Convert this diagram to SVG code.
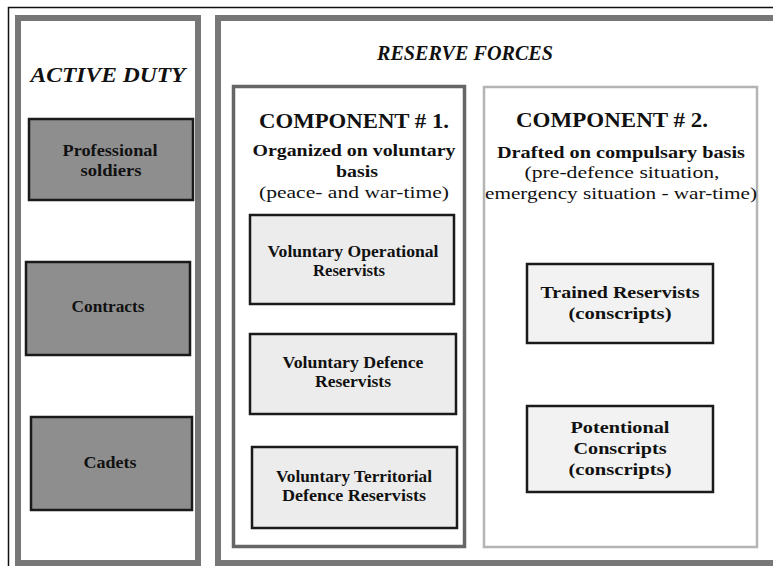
<svg xmlns="http://www.w3.org/2000/svg" width="773" height="566" viewBox="0 0 773 566">
<style>
text{font-family:"Liberation Serif","DejaVu Serif",serif;fill:#111;text-anchor:middle}
.t{font-weight:bold;font-style:italic;font-size:21px}
.h{font-weight:bold;font-size:22px}
.s{font-weight:bold;font-size:16px}
.r{font-size:17px}
.b{font-weight:bold;font-size:17.5px}
.panel{fill:#fff;stroke:#777;stroke-width:6}
.dark{fill:#8e8e8e;stroke:#1a1a1a;stroke-width:2.5}
.light{fill:#ececec;stroke:#1a1a1a;stroke-width:2.5}
.light2{fill:#f2f2f2;stroke:#1a1a1a;stroke-width:2.5}
</style>
<rect x="0" y="0" width="773" height="566" fill="#fff"/>
<rect x="8.5" y="7.5" width="780" height="580" fill="none" stroke="#111" stroke-width="1.5"/>

<g id="active-duty">
<rect class="panel" x="18" y="18" width="180" height="545"/>
<text class="t" x="108" y="82" textLength="155" lengthAdjust="spacingAndGlyphs">ACTIVE DUTY</text>
</g>
<g id="professional-soldiers">
<rect class="dark" x="29" y="119" width="164" height="81"/>
<text class="b" x="110" y="156" textLength="95" lengthAdjust="spacingAndGlyphs">Professional</text>
<text class="b" x="111" y="176" textLength="61" lengthAdjust="spacingAndGlyphs">soldiers</text>
</g>
<g id="contracts">
<rect class="dark" x="26" y="262" width="164" height="93"/>
<text class="b" x="108" y="312" textLength="73" lengthAdjust="spacingAndGlyphs">Contracts</text>
</g>
<g id="cadets">
<rect class="dark" x="31" y="417" width="161" height="93"/>
<text class="b" x="110" y="468" textLength="53" lengthAdjust="spacingAndGlyphs">Cadets</text>
</g>

<g id="reserve-forces">
<rect class="panel" x="218" y="18" width="580" height="545"/>
<text class="t" x="465" y="60" textLength="176" lengthAdjust="spacingAndGlyphs">RESERVE FORCES</text>
</g>

<g id="component-1">
<rect x="233.5" y="86.5" width="231" height="460" fill="#fff" stroke="#666" stroke-width="3.5"/>
<text class="h" x="354" y="128" textLength="190" lengthAdjust="spacingAndGlyphs">COMPONENT # 1.</text>
<text class="s" x="354" y="156" textLength="203" lengthAdjust="spacingAndGlyphs">Organized  on voluntary</text>
<text class="s" x="357" y="177" textLength="42" lengthAdjust="spacingAndGlyphs">basis</text>
<text class="r" x="354" y="198" textLength="190" lengthAdjust="spacingAndGlyphs">(peace- and war-time)</text>
</g>
<g id="voluntary-operational">
<rect class="light" x="250" y="215" width="204" height="89"/>
<text class="b" x="353" y="257" textLength="171" lengthAdjust="spacingAndGlyphs">Voluntary Operational</text>
<text class="b" x="349" y="276" textLength="72" lengthAdjust="spacingAndGlyphs">Reservists</text>
</g>
<g id="voluntary-defence">
<rect class="light" x="250" y="334" width="206" height="80"/>
<text class="b" x="353" y="368" textLength="141" lengthAdjust="spacingAndGlyphs">Voluntary Defence</text>
<text class="b" x="353" y="387" textLength="76" lengthAdjust="spacingAndGlyphs">Reservists</text>
</g>
<g id="voluntary-territorial">
<rect class="light" x="252" y="447" width="205" height="81"/>
<text class="b" x="354" y="482" textLength="156" lengthAdjust="spacingAndGlyphs">Voluntary Territorial</text>
<text class="b" x="354" y="501" textLength="144" lengthAdjust="spacingAndGlyphs">Defence Reservists</text>
</g>

<g id="component-2">
<rect x="484" y="87" width="273" height="460" fill="#fff" stroke="#b4b4b4" stroke-width="2.5"/>
<text class="h" x="612" y="127" textLength="192" lengthAdjust="spacingAndGlyphs">COMPONENT # 2.</text>
<text class="s" x="621" y="158" textLength="248" lengthAdjust="spacingAndGlyphs">Drafted on compulsary basis</text>
<text class="r" x="622" y="178" textLength="195" lengthAdjust="spacingAndGlyphs">(pre-defence situation,</text>
<text class="r" x="621" y="199" textLength="272" lengthAdjust="spacingAndGlyphs">emergency situation - war-time)</text>
</g>
<g id="trained-reservists">
<rect class="light2" x="527" y="264" width="186" height="79"/>
<text class="b" x="620" y="298" textLength="159" lengthAdjust="spacingAndGlyphs">Trained Reservists</text>
<text class="b" x="620" y="319" textLength="103" lengthAdjust="spacingAndGlyphs">(conscripts)</text>
</g>
<g id="potentional-conscripts">
<rect class="light2" x="527" y="406" width="186" height="86"/>
<text class="b" x="620" y="433" textLength="99" lengthAdjust="spacingAndGlyphs">Potentional</text>
<text class="b" x="620" y="454" textLength="93" lengthAdjust="spacingAndGlyphs">Conscripts</text>
<text class="b" x="620" y="475" textLength="103" lengthAdjust="spacingAndGlyphs">(conscripts)</text>
</g>
<g id="connectors"></g>
</svg>
